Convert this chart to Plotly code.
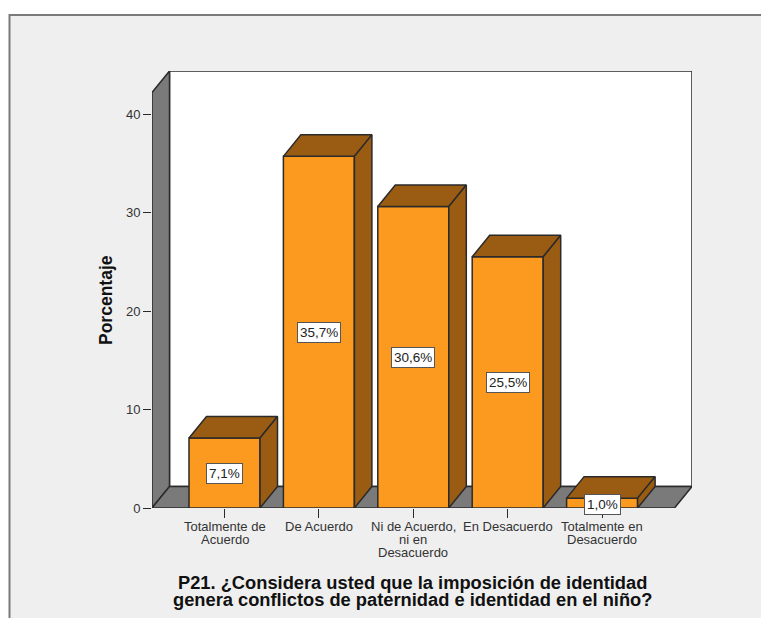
import plotly.graph_objects as go

categories = ["Totalmente de<br>Acuerdo", "De Acuerdo", "Ni de Acuerdo,<br>ni en<br>Desacuerdo",
              "En Desacuerdo", "Totalmente en<br>Desacuerdo"]
values = [7.1, 35.7, 30.6, 25.5, 1.0]
labels = ["7,1%", "35,7%", "30,6%", "25,5%", "1,0%"]
y_ticks = [0, 10, 20, 30, 40]

FRONT = "#FB9A1E"
SHADE = "#9A5C12"
WALL = "#7A7A7A"
EDGE = "#2A2A2A"
BG = "#EFEFEF"

W, H = 761, 618
L, R, T, B = 152, 692, 71, 508
PX_X, PX_Y = 94.4, 9.85
X0 = 224.5
xmin, xmax = (L - X0) / PX_X, (R - X0) / PX_X
ymax = (B - T) / PX_Y
DX, DY = 17.5 / PX_X, 21.5 / PX_Y
BW = 71 / PX_X
xs = list(range(len(values)))

fig = go.Figure()

fig.add_trace(go.Bar(x=xs, y=values, width=BW, marker=dict(color=FRONT, line=dict(color=EDGE, width=1.5)),
                     showlegend=False, hoverinfo="skip"))

for x, v in zip(xs, values):
    l, r = x - BW / 2, x + BW / 2
    fig.add_trace(go.Scatter(x=[l, r, r + DX, l + DX, l], y=[v, v, v + DY, v + DY, v], mode="lines",
                             fill="toself", fillcolor=SHADE, line=dict(color=EDGE, width=1.5),
                             showlegend=False, hoverinfo="skip"))
    fig.add_trace(go.Scatter(x=[r, r + DX, r + DX, r, r], y=[0, DY, v + DY, v, 0], mode="lines",
                             fill="toself", fillcolor=SHADE, line=dict(color=EDGE, width=1.5),
                             showlegend=False, hoverinfo="skip"))


def path(pts):
    return "M " + " L ".join(f"{a},{b}" for a, b in pts) + " Z"


xf = xmax - DX
line = dict(color=EDGE, width=1.5)
shapes = [
    dict(type="rect", xref="paper", yref="paper", x0=(9.5 - L) / (R - L), x1=(W + 20 - L) / (R - L),
         y0=(B - H - 20) / (B - T), y1=(B - 15) / (B - T), fillcolor=BG,
         line=dict(color="#7A7A7A", width=2), layer="below"),
    dict(type="path", path=path([(xmin + DX, DY), (xmax, DY), (xmax, ymax), (xmin + DX, ymax)]),
         fillcolor="white", line=line, layer="below"),
    dict(type="path", path=path([(xmin, 0), (xmin + DX, DY), (xmin + DX, ymax), (xmin, ymax - DY)]),
         fillcolor=WALL, line=line, layer="below"),
    dict(type="path", path=path([(xmin, 0), (xf, 0), (xmax, DY), (xmin + DX, DY)]),
         fillcolor=WALL, line=line, layer="below"),
]

annotations = []
# Category labels: set as separate lines because the reference line pitch is tighter than Plotly's 1.3em
for x, cat in zip(xs, categories):
    for i, part in enumerate(cat.split("<br>")):
        annotations.append(dict(x=x, xref="x", yref="paper", y=(B - (526.5 + 13 * i)) / (B - T), text=part,
                                xanchor="center", yanchor="middle", showarrow=False,
                                font=dict(family="Liberation Sans", size=13, color="#333333")))
annotations += [
    dict(x=x, y=(0.4 if v < 2 else v / 2), text=t, showarrow=False, bgcolor="white", bordercolor="#555555",
         borderwidth=1, borderpad=2, font=dict(family="Liberation Sans", size=13.5, color="#222222"))
    for x, v, t in zip(xs, values, labels)
]
title_font = dict(family="Liberation Sans", size=18.3, color="#111111")
annotations += [
    dict(xref="paper", yref="paper", x=(412.5 - L) / (R - L), y=(B - 582) / (B - T), xanchor="center",
         yanchor="middle",
         text="<b>P21. ¿Considera usted que la imposición de identidad</b>", showarrow=False, font=title_font),
    dict(xref="paper", yref="paper", x=(412.5 - L) / (R - L), y=(B - 599) / (B - T), xanchor="center",
         yanchor="middle",
         text="<b>genera conflictos de paternidad e identidad en el niño?</b>", showarrow=False, font=title_font),
    dict(xref="paper", yref="paper", x=(106 - L) / (R - L), y=(B - 300) / (B - T), textangle=-90,
         xanchor="center", yanchor="middle",
         text="<b>Porcentaje</b>", showarrow=False,
         font=dict(family="Liberation Sans", size=17.5, color="#111111")),
]

fig.update_layout(
    width=W, height=H, autosize=False,
    margin=dict(l=L, r=W - R, t=T, b=H - B, pad=0),
    paper_bgcolor="white", plot_bgcolor="rgba(0,0,0,0)",
    shapes=shapes, annotations=annotations, showlegend=False,
    xaxis=dict(range=[xmin, xmax], tickmode="array", tickvals=xs, showticklabels=False,
               showgrid=False, zeroline=False, showline=False, ticks="outside", ticklen=9,
               tickcolor=EDGE, tickwidth=1),
    yaxis=dict(range=[0, ymax], tickmode="array", tickvals=y_ticks, ticktext=[str(t) for t in y_ticks],
               showgrid=False, zeroline=False, showline=False, ticks="outside", ticklen=8,
               tickcolor=EDGE, tickwidth=1,
               tickfont=dict(family="Liberation Sans", size=13, color="#333333")),
)

fig.write_html("out.html", config={"displayModeBar": False},
               post_script="document.body.style.margin='0';document.body.style.overflow='hidden';")
